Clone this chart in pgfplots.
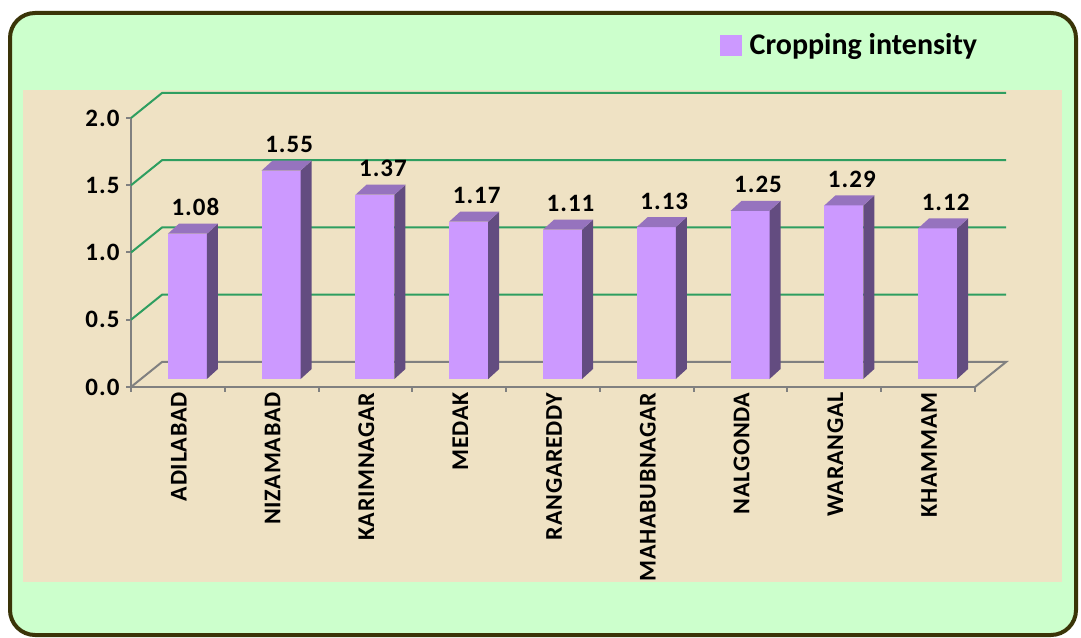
\documentclass[border=0pt]{standalone}
\usepackage{pgfplots}
\pgfplotsset{compat=1.18}
\usepackage{pgfplotstable}
\usepackage{fontspec}
\setmainfont{Carlito}
\newfontfamily\lblfont[LetterSpace=4]{Carlito}
\newfontfamily\catfont[LetterSpace=3]{Carlito}
\definecolor{bgreen}{RGB}{204,255,204}
\definecolor{frame}{RGB}{58,52,8}
\definecolor{beige}{RGB}{239,226,196}
\definecolor{barfront}{RGB}{204,153,255}
\definecolor{barside}{RGB}{99,76,128}
\definecolor{bartop}{RGB}{150,115,190}
\definecolor{gridgreen}{RGB}{46,158,96}
\definecolor{axgray}{RGB}{128,128,128}

\pgfplotstableread{
x y lab
0.5 1.08 1.08
1.5 1.55 1.55
2.5 1.37 1.37
3.5 1.17 1.17
4.5 1.11 1.11
5.5 1.13 1.13
6.5 1.25 1.25
7.5 1.29 1.29
8.5 1.12 1.12
}\cidata

\pgfdeclareplotmark{bar3d}{%
  \pgfmathsetmacro\barbot{8-\hval*134.5}%
  \pgfmathsetmacro\barbotb{18-\hval*134.5}%
  \begin{pgfscope}%
  \pgfsetfillcolor{barfront}%
  \pgfpathrectanglecorners{\pgfpoint{-10pt}{\barbot pt}}{\pgfpoint{29pt}{8pt}}%
  \pgfusepath{fill}%
  \end{pgfscope}%
  \begin{pgfscope}%
  \pgfsetfillcolor{barside}%
  \pgfpathmoveto{\pgfpoint{29pt}{\barbot pt}}%
  \pgfpathlineto{\pgfpoint{40pt}{\barbotb pt}}%
  \pgfpathlineto{\pgfpoint{40pt}{18pt}}%
  \pgfpathlineto{\pgfpoint{29pt}{8pt}}%
  \pgfpathclose
  \pgfusepath{fill}%
  \end{pgfscope}%
  \begin{pgfscope}%
  \pgfsetfillcolor{bartop}%
  \pgfpathmoveto{\pgfpoint{-10pt}{8pt}}%
  \pgfpathlineto{\pgfpoint{29pt}{8pt}}%
  \pgfpathlineto{\pgfpoint{40pt}{18pt}}%
  \pgfpathlineto{\pgfpoint{1pt}{18pt}}%
  \pgfpathclose
  \pgfusepath{fill}%
  \end{pgfscope}%
}

\begin{document}
\begin{tikzpicture}
\useasboundingbox (0pt,0pt) rectangle (1081pt,637pt);
\fill[white] (0pt,0pt) rectangle (1081pt,637pt);
\draw[line width=4pt, draw=frame, fill=bgreen, rounded corners=25pt] (10pt,2pt) rectangle (1076pt,624pt);
\fill[beige] (23pt,55pt) rectangle (1062pt,547pt);
\begin{axis}[
  at={(131pt,250pt)}, anchor=south west,
  scale only axis, width=844pt, height=269pt,
  xmin=0, xmax=9, ymin=0, ymax=2,
  clip=false,
  axis x line*=bottom, axis y line*=left,
  axis line style={axgray, line width=2pt},
  tick align=outside, major tick length=5pt,
  tick style={axgray, line width=2pt},
  /pgf/number format/assume math mode=true,
  ytick={0,0.5,1,1.5,2},
  yticklabel style={font=\lblfont\fontsize{25}{29}\selectfont\bfseries, text=black, xshift=-3pt,
    /pgf/number format/fixed, /pgf/number format/fixed zerofill, /pgf/number format/precision=1},
  xtick={0,1,2,3,4,5,6,7,8,9},
  xticklabels={},
  extra x ticks={0.5,1.5,2.5,3.5,4.5,5.5,6.5,7.5,8.5},
  extra x tick labels={ADILABAD,NIZAMABAD,KARIMNAGAR,MEDAK,RANGAREDDY,MAHABUBNAGAR,NALGONDA,WARANGAL,KHAMMAM},
  extra x tick style={major tick length=0pt,
    xticklabel style={rotate=90, anchor=east, font=\catfont\fontsize{24}{28}\selectfont\bfseries, text=black, yshift=-1pt, xshift=-2pt}},
  legend style={at={(axis description cs:0.698,1.271)}, anchor=west, draw=none, fill=none,
    inner sep=0pt, font=\fontsize{30}{34}\selectfont\bfseries},
  legend cell align=left,
]
\pgfplotsinvokeforeach{0.5,1,1.5,2}{
  \draw[gridgreen, line width=2pt] (axis cs:0,#1) -- ([shift={(31pt,25pt)}]axis cs:0,#1) -- ([shift={(31pt,25pt)}]axis cs:9,#1);
}
\draw[axgray, line width=2pt] (axis cs:0,0) -- ([shift={(31pt,25pt)}]axis cs:0,0) -- ([shift={(31pt,25pt)}]axis cs:9,0) -- (axis cs:9,0);
\addplot[only marks, mark=bar3d,
  visualization depends on={\thisrow{y} \as \hval},
  point meta=explicit symbolic,
  nodes near coords,
  every node near coord/.append style={font=\lblfont\fontsize{25}{29}\selectfont\bfseries, text=black, anchor=base, xshift=17.5pt, yshift=26pt},
  legend image code/.code={\fill[barfront] (0pt,-10pt) rectangle (21pt,10pt); \path (27pt,0pt);}
] table[x=x, y=y, meta=lab] {\cidata};
\addlegendentry{Cropping intensity}
\end{axis}
\end{tikzpicture}
\end{document}
